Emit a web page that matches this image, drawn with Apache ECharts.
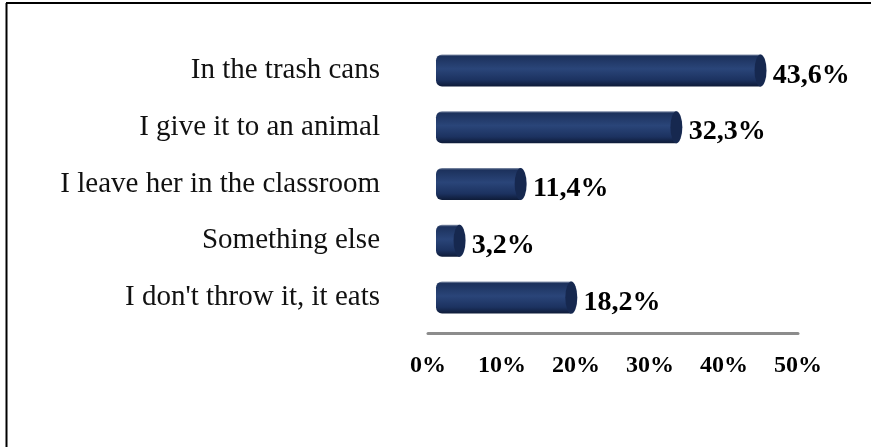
<!DOCTYPE html>
<html lang="en">
<head>
    <meta charset="UTF-8">
    <title>Where do you throw it</title>
    <script src="https://cdn.jsdelivr.net/npm/echarts@6/dist/echarts.min.js"></script>
    <style>
        html, body { margin: 0; padding: 0; background: #fff; }
        #chart { width: 871px; height: 447px; }
    </style>
</head>
<body>
    <div id="chart"></div>

    <script>
        // Data
        var categories = ['In the trash cans', 'I give it to an animal', 'I leave her in the classroom', 'Something else', "I don't throw it, it eats"];
        var values = [43.6, 32.3, 11.4, 3.2, 18.2];
        var tickMax = 50;
        var tickStep = 10;

        var chart = echarts.init(document.getElementById('chart'));

        // cylinder body: dark at the edges, a bit lighter in the middle
        var bodyColor = new echarts.graphic.LinearGradient(0, 0, 0, 1, [
            { offset: 0, color: '#8c98b0' },
            { offset: 0.06, color: '#1c315c' },
            { offset: 0.45, color: '#2a4579' },
            { offset: 0.8, color: '#1c3260' },
            { offset: 1, color: '#0e1b38' }
        ]);

        var option = {
            animation: false,
            backgroundColor: '#fff',
            graphic: [
                // frame, cut off at right and bottom like the original
                { type: 'line', shape: { x1: 6, y1: 3, x2: 871, y2: 3 }, style: { stroke: '#000', lineWidth: 2 } },
                { type: 'line', shape: { x1: 6.5, y1: 3, x2: 6.5, y2: 447 }, style: { stroke: '#000', lineWidth: 2 } }
            ],
            grid: [
                // grid 0 only carries the visible percent axis
                { left: 428, width: 370, top: 42, height: 291 },
                // grid 1 carries the cylinders
                { left: 436, width: 372.5, top: 42, height: 284 }
            ],
            xAxis: [
                {
                    gridIndex: 0,
                    type: 'value',
                    min: 0,
                    max: tickMax,
                    interval: tickStep,
                    axisLine: { show: true, lineStyle: { color: '#8c8c8c', width: 3 } },
                    axisTick: { show: false },
                    splitLine: { show: false },
                    axisLabel: {
                        formatter: '{value}%',
                        margin: 21,
                        color: '#000',
                        fontFamily: 'Liberation Serif',
                        fontWeight: 'bold',
                        fontSize: 24
                    }
                },
                {
                    gridIndex: 1,
                    type: 'value',
                    min: 0,
                    max: tickMax,
                    show: false
                }
            ],
            yAxis: [
                { gridIndex: 0, type: 'value', show: false },
                {
                    gridIndex: 1,
                    type: 'category',
                    data: categories,
                    inverse: true,
                    axisLine: { show: false },
                    axisTick: { show: false },
                    axisLabel: {
                        margin: 56,
                        color: '#111',
                        fontFamily: 'Liberation Serif',
                        fontSize: 29
                    }
                }
            ],
            series: [
                {
                    type: 'bar',
                    xAxisIndex: 1,
                    yAxisIndex: 1,
                    data: values,
                    barWidth: 32,
                    itemStyle: {
                        color: bodyColor,
                        borderRadius: [6, 0, 0, 6]
                    },
                    label: {
                        show: true,
                        position: 'right',
                        distance: 12,
                        offset: [0, 5],
                        formatter: function (p) {
                            return p.value.toFixed(1).replace('.', ',') + '%';
                        },
                        color: '#000',
                        fontFamily: 'Liberation Serif',
                        fontWeight: 'bold',
                        fontSize: 28
                    },
                    z: 2
                },
                {
                    // elliptical end cap of each cylinder
                    type: 'pictorialBar',
                    xAxisIndex: 1,
                    yAxisIndex: 1,
                    data: values,
                    symbol: 'circle',
                    symbolSize: [12, 32],
                    symbolPosition: 'end',
                    symbolOffset: ['50%', 0],
                    itemStyle: {
                        color: '#16284f',
                        borderColor: '#3a5285',
                        borderWidth: 1
                    },
                    z: 3
                }
            ]
        };

        chart.setOption(option);
    </script>
</body>
</html>
